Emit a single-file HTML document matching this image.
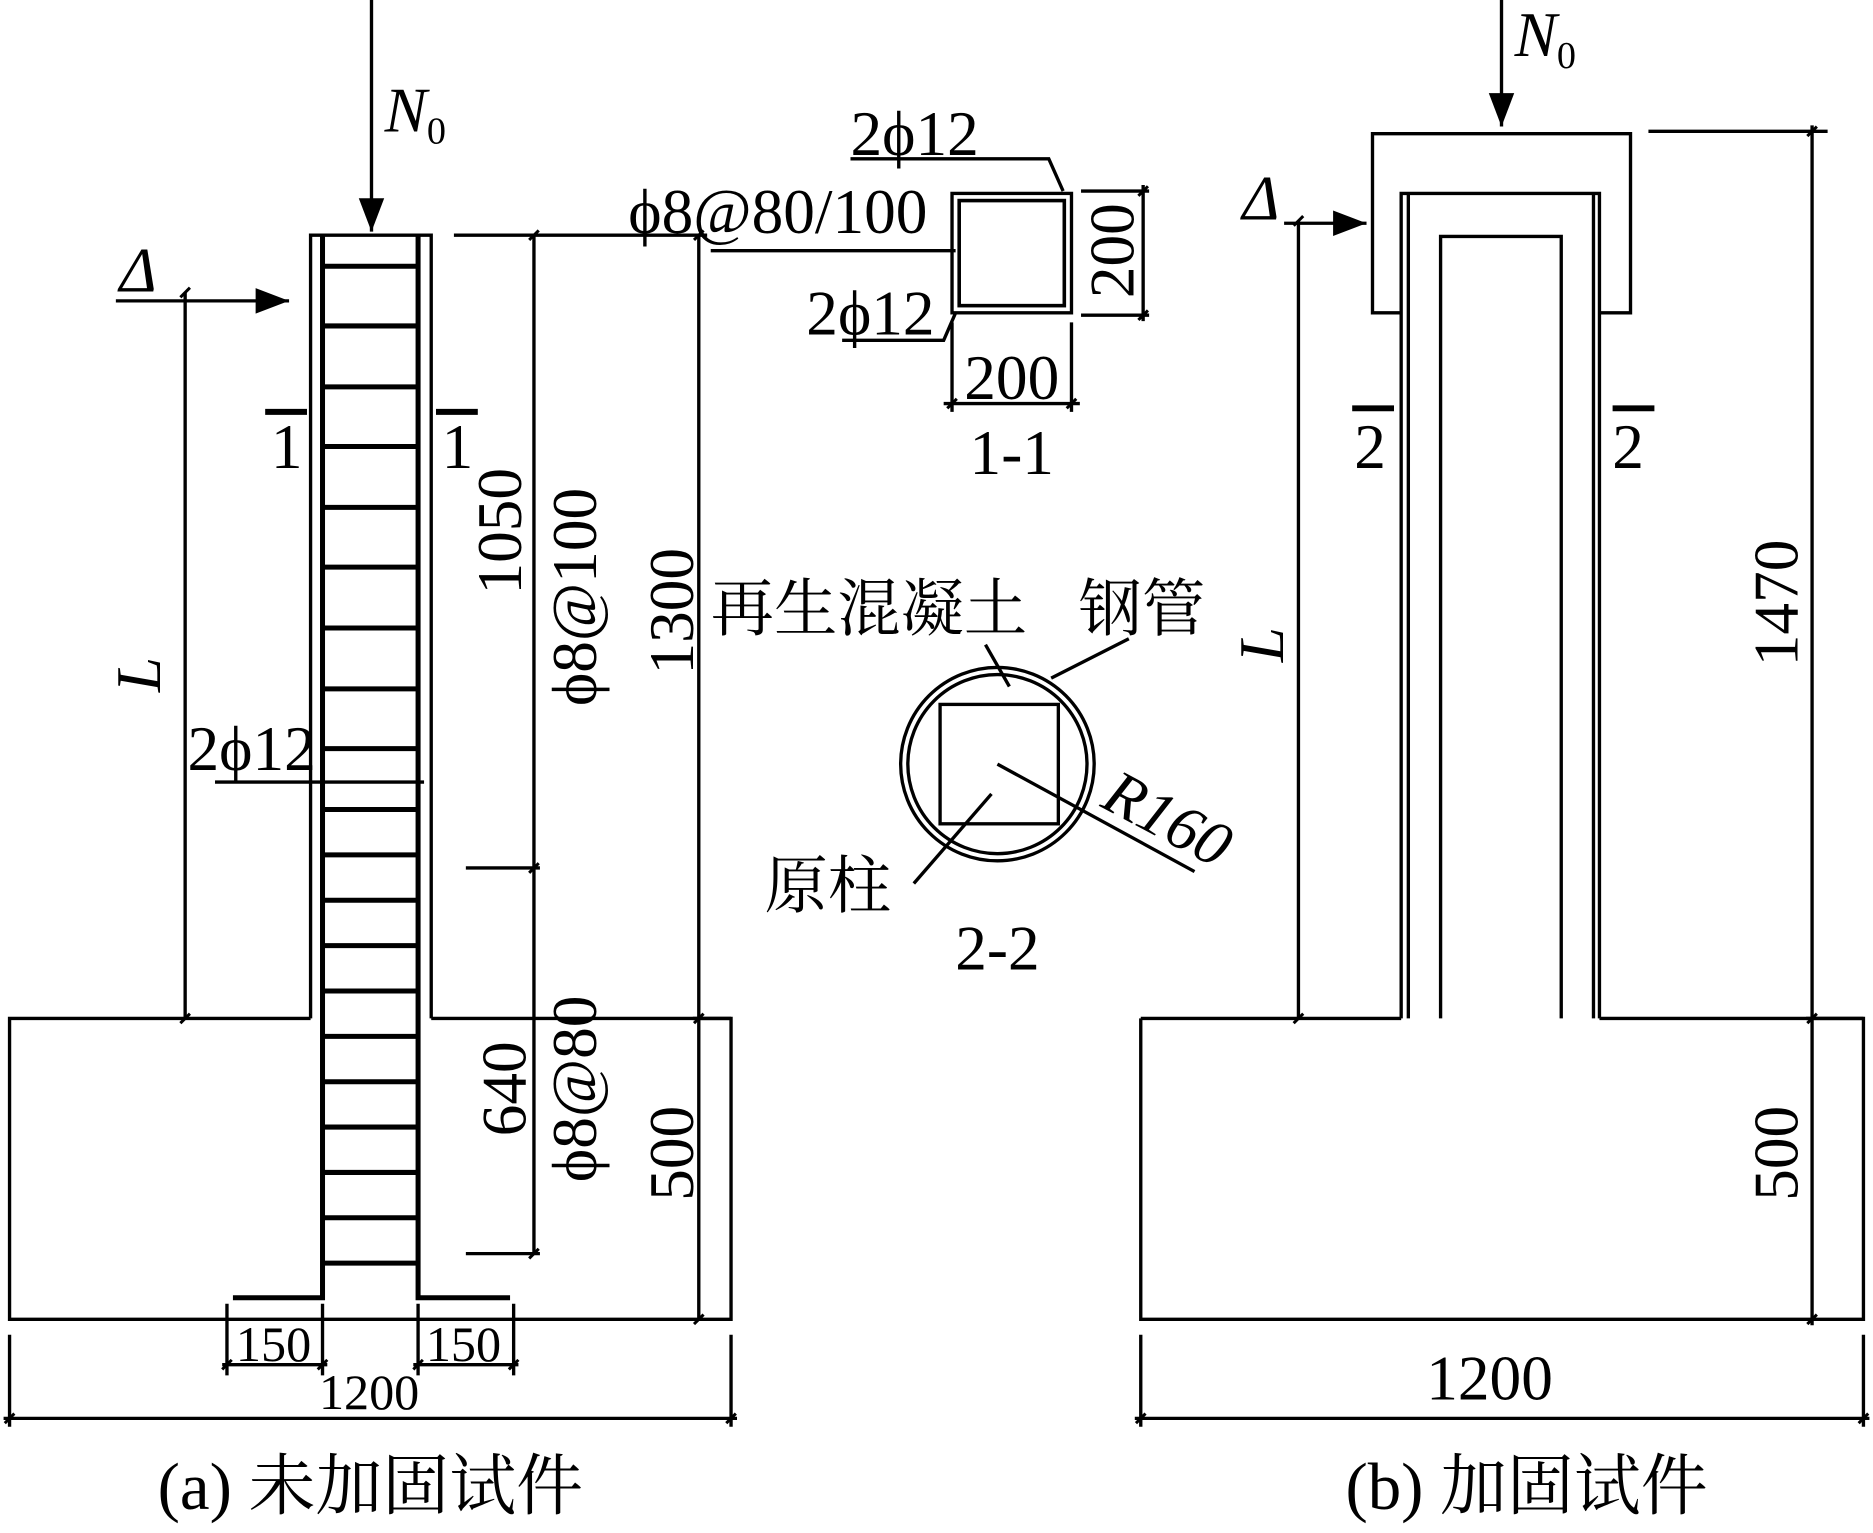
<!DOCTYPE html>
<html><head><meta charset="utf-8"><style>
html,body{margin:0;padding:0;background:#fff}
svg{display:block}
text{font-family:"Liberation Serif","Noto Serif CJK SC",serif;fill:#000}
</style></head><body>
<svg width="1873" height="1533" viewBox="0 0 1568 1284" preserveAspectRatio="none" xmlns="http://www.w3.org/2000/svg">
<defs>
<marker id="ah2" viewBox="0 0 10 10" refX="10" refY="5" markerWidth="28" markerHeight="28" markerUnits="userSpaceOnUse" orient="auto"><path d="M0,1.2 L10,5 L0,8.8 Z" fill="#000"/></marker>
</defs>
<g stroke="#000" stroke-width="2.8" fill="none">
<polyline points="260,853 260,197 361,197 361,853"/>
<polyline points="260,853 8,853 8,1105 612,1105 612,853 361,853"/>
<g stroke-width="4.2">
<polyline points="195,1087 270,1087 270,197"/>
<polyline points="427,1087 350,1087 350,197"/>
<line x1="270" y1="223" x2="350" y2="223"/><line x1="270" y1="273" x2="350" y2="273"/>
<line x1="270" y1="324" x2="350" y2="324"/><line x1="270" y1="374" x2="350" y2="374"/>
<line x1="270" y1="425" x2="350" y2="425"/><line x1="270" y1="475" x2="350" y2="475"/>
<line x1="270" y1="526" x2="350" y2="526"/><line x1="270" y1="577" x2="350" y2="577"/>
<line x1="270" y1="627" x2="350" y2="627"/><line x1="270" y1="678" x2="350" y2="678"/>
<line x1="270" y1="716" x2="350" y2="716"/><line x1="270" y1="754" x2="350" y2="754"/>
<line x1="270" y1="792" x2="350" y2="792"/><line x1="270" y1="830" x2="350" y2="830"/>
<line x1="270" y1="868" x2="350" y2="868"/><line x1="270" y1="906" x2="350" y2="906"/>
<line x1="270" y1="944" x2="350" y2="944"/><line x1="270" y1="982" x2="350" y2="982"/>
<line x1="270" y1="1020" x2="350" y2="1020"/><line x1="270" y1="1058" x2="350" y2="1058"/>
</g>
<line x1="311" y1="0" x2="311" y2="194" marker-end="url(#ah2)"/>
<line x1="97" y1="252" x2="242" y2="252" marker-end="url(#ah2)"/>
<line x1="155" y1="245" x2="155" y2="853"/>
<line x1="222" y1="345" x2="257" y2="345" stroke-width="5"/>
<line x1="365" y1="345" x2="400" y2="345" stroke-width="5"/>
<line x1="180" y1="655" x2="355" y2="655"/>
<line x1="380" y1="197" x2="592" y2="197"/>
<line x1="447" y1="197" x2="447" y2="1050"/>
<line x1="390" y1="727" x2="452" y2="727"/>
<line x1="390" y1="1050" x2="452" y2="1050"/>
<line x1="585" y1="197" x2="585" y2="1105"/>
<line x1="580" y1="853" x2="612" y2="853"/>
<line x1="8" y1="1118" x2="8" y2="1195"/><line x1="612" y1="1118" x2="612" y2="1195"/>
<line x1="3" y1="1188" x2="617" y2="1188"/>
<line x1="190" y1="1092" x2="190" y2="1152"/><line x1="270" y1="1092" x2="270" y2="1152"/>
<line x1="350" y1="1092" x2="350" y2="1152"/><line x1="430" y1="1092" x2="430" y2="1152"/>
<line x1="186" y1="1143" x2="274" y2="1143"/><line x1="346" y1="1143" x2="434" y2="1143"/>
<rect x="797" y="162" width="100" height="100"/>
<rect x="803" y="168" width="88" height="88" stroke-width="3"/>
<polyline points="712,133 878,133 890,160"/>
<line x1="595" y1="210" x2="800" y2="210"/>
<polyline points="705,285 790,285 800,262"/>
<line x1="905" y1="160" x2="962" y2="160"/><line x1="905" y1="264" x2="962" y2="264"/>
<line x1="957" y1="155" x2="957" y2="269"/>
<line x1="797" y1="270" x2="797" y2="345"/><line x1="897" y1="270" x2="897" y2="345"/>
<line x1="790" y1="338" x2="904" y2="338"/>
<circle cx="835" cy="640" r="81"/>
<circle cx="835" cy="640" r="75"/>
<rect x="787" y="590" width="99" height="100"/>
<line x1="825" y1="540" x2="845" y2="575"/>
<line x1="945" y1="535" x2="880" y2="568"/>
<line x1="835" y1="640" x2="1000" y2="730"/>
<line x1="765" y1="740" x2="830" y2="665"/>
<polyline points="955,853 955,1105 1560,1105 1560,853 1339,853"/>
<line x1="955" y1="853" x2="1173" y2="853"/>
<polyline points="1173,853 1173,162 1339,162 1339,853"/>
<line x1="1179" y1="162" x2="1179" y2="853"/>
<line x1="1334" y1="162" x2="1334" y2="853"/>
<polyline points="1206,853 1206,198 1307,198 1307,853"/>
<polyline points="1173,262 1149,262 1149,112 1365,112 1365,262 1339,262"/>
<line x1="1257" y1="0" x2="1257" y2="106" marker-end="url(#ah2)"/>
<line x1="1075" y1="187" x2="1144" y2="187" marker-end="url(#ah2)"/>
<line x1="1087" y1="185" x2="1087" y2="853"/>
<line x1="1132" y1="342" x2="1167" y2="342" stroke-width="5"/>
<line x1="1350" y1="342" x2="1385" y2="342" stroke-width="5"/>
<line x1="1380" y1="110" x2="1530" y2="110"/>
<line x1="1517" y1="105" x2="1517" y2="1110"/>
<line x1="1512" y1="853" x2="1560" y2="853"/>
<line x1="955" y1="1118" x2="955" y2="1195"/><line x1="1560" y1="1118" x2="1560" y2="1195"/>
<line x1="950" y1="1188" x2="1565" y2="1188"/>
</g>
<g stroke="#000" stroke-width="2.5">
<line x1="151" y1="249" x2="159" y2="241"/><line x1="151" y1="857" x2="159" y2="849"/>
<line x1="443" y1="201" x2="451" y2="193"/><line x1="443" y1="731" x2="451" y2="723"/><line x1="443" y1="1054" x2="451" y2="1046"/>
<line x1="581" y1="201" x2="589" y2="193"/><line x1="581" y1="857" x2="589" y2="849"/><line x1="581" y1="1109" x2="589" y2="1101"/>
<line x1="4" y1="1192" x2="12" y2="1184"/><line x1="608" y1="1192" x2="616" y2="1184"/>
<line x1="186" y1="1147" x2="194" y2="1139"/><line x1="266" y1="1147" x2="274" y2="1139"/>
<line x1="346" y1="1147" x2="354" y2="1139"/><line x1="426" y1="1147" x2="434" y2="1139"/>
<line x1="953" y1="164" x2="961" y2="156"/><line x1="953" y1="268" x2="961" y2="260"/>
<line x1="793" y1="342" x2="801" y2="334"/><line x1="893" y1="342" x2="901" y2="334"/>
<line x1="1083" y1="189" x2="1091" y2="181"/><line x1="1083" y1="857" x2="1091" y2="849"/>
<line x1="1513" y1="114" x2="1521" y2="106"/><line x1="1513" y1="857" x2="1521" y2="849"/><line x1="1513" y1="1109" x2="1521" y2="1101"/>
<line x1="951" y1="1192" x2="959" y2="1184"/><line x1="1556" y1="1192" x2="1564" y2="1184"/>
</g>
<g font-size="53">
<text x="322" y="110" font-style="italic">N<tspan font-size="32" font-style="normal" dy="10">0</tspan></text>
<text x="100" y="244" font-style="italic">Δ</text>
<text x="1268" y="47" font-style="italic">N<tspan font-size="32" font-style="normal" dy="10">0</tspan></text>
<text x="1040" y="184" font-style="italic">Δ</text>
<text x="240" y="392" text-anchor="middle">1</text>
<text x="383" y="392" text-anchor="middle">1</text>
<text x="1147" y="392" text-anchor="middle">2</text>
<text x="1363" y="392" text-anchor="middle">2</text>
<text x="157" y="645">2ϕ12</text>
<text x="712" y="130">2ϕ12</text>
<text x="526" y="195">ϕ8@80/100</text>
<text x="675" y="280">2ϕ12</text>
<text x="847" y="334" text-anchor="middle">200</text>
<text x="847" y="397" text-anchor="middle">1-1</text>
<text x="835" y="812" text-anchor="middle">2-2</text>
<text x="595" y="528">再生混凝土</text>
<text x="903" y="528">钢管</text>
<text x="640" y="760">原柱</text>
<text transform="translate(920,675) rotate(28)" font-style="italic">R160</text>
<text transform="translate(949,210) rotate(-90)" text-anchor="middle">200</text>
<text transform="translate(134,565) rotate(-90)" text-anchor="middle" font-style="italic">L</text>
<text transform="translate(1074,540) rotate(-90)" text-anchor="middle" font-style="italic">L</text>
<text transform="translate(436,445) rotate(-90)" text-anchor="middle">1050</text>
<text transform="translate(499,500) rotate(-90)" text-anchor="middle">ϕ8@100</text>
<text transform="translate(440,912) rotate(-90)" text-anchor="middle">640</text>
<text transform="translate(499,912) rotate(-90)" text-anchor="middle">ϕ8@80</text>
<text transform="translate(580,512) rotate(-90)" text-anchor="middle">1300</text>
<text transform="translate(580,966) rotate(-90)" text-anchor="middle">500</text>
<text transform="translate(1505,505) rotate(-90)" text-anchor="middle">1470</text>
<text transform="translate(1505,966) rotate(-90)" text-anchor="middle">500</text>
<text x="1247" y="1172" text-anchor="middle">1200</text>
</g>
<g font-size="56">
<text x="310" y="1264" text-anchor="middle">(a) 未加固试件</text>
<text x="1278" y="1264" text-anchor="middle">(b) 加固试件</text>
</g>
<g font-size="42">
<text x="229" y="1140" text-anchor="middle">150</text>
<text x="388" y="1140" text-anchor="middle">150</text>
<text x="309" y="1180" text-anchor="middle">1200</text>
</g>
</svg>
</body></html>
